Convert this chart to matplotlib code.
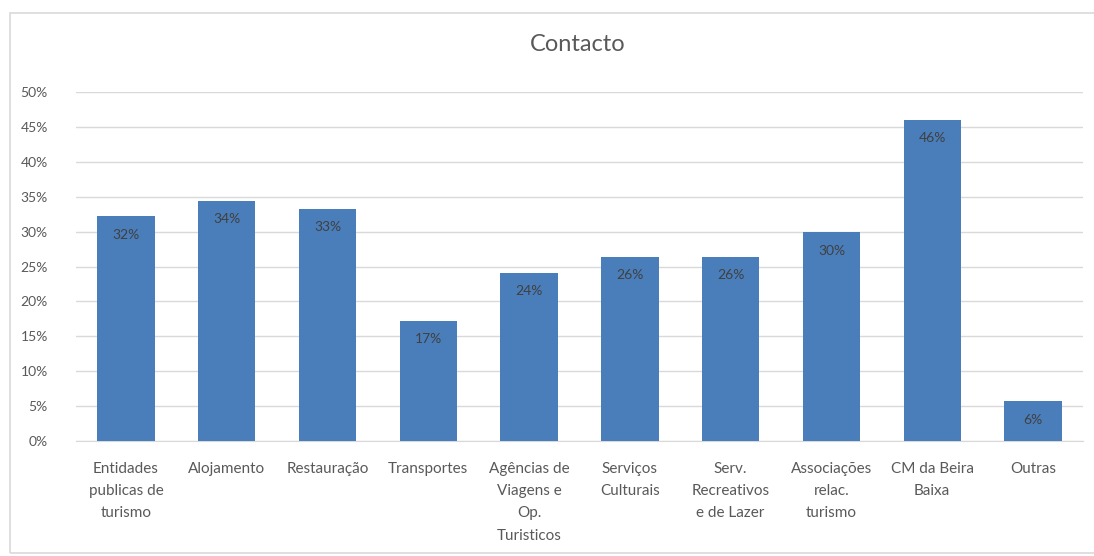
import matplotlib
matplotlib.use("Agg")
import matplotlib.pyplot as plt
from matplotlib.patches import Rectangle
from matplotlib.ticker import PercentFormatter

categories = [
    "Entidades\npublicas de\nturismo",
    "Alojamento",
    "Restauração",
    "Transportes",
    "Agências de\nViagens e\nOp.\nTuristicos",
    "Serviços\nCulturais",
    "Serv.\nRecreativos\ne de Lazer",
    "Associações\nrelac.\nturismo",
    "CM da Beira\nBaixa",
    "Outras",
]
values = [32.2, 34.4, 33.3, 17.2, 24.1, 26.4, 26.4, 29.9, 46.0, 5.7]
labels = ["32%", "34%", "33%", "17%", "24%", "26%", "26%", "30%", "46%", "6%"]
yticks = [0, 5, 10, 15, 20, 25, 30, 35, 40, 45, 50]

plt.rcParams["font.family"] = ["Lato", "DejaVu Sans"]
grey = "#595959"
blue = "#4a7ebb"

fig = plt.figure(figsize=(10.94, 5.56), dpi=100)
fig.patches.append(Rectangle((10 / 1094, 3 / 556), 1.2, 540 / 556, transform=fig.transFigure,
                             fill=False, edgecolor="#d9d9d9", linewidth=1.2))
ax = fig.add_axes([75.6 / 1094, 115 / 556, 1007.8 / 1094, 349 / 556])

x = range(len(values))
bars = ax.bar(x, values, width=0.57, color=blue, zorder=3)
for b, lab in zip(bars, labels):
    ax.annotate(lab, (b.get_x() + b.get_width() / 2, b.get_height()), xytext=(0, -9),
                textcoords="offset points", ha="center", va="top", fontsize=10, color="#404040")

ax.set_xlim(-0.5, len(values) - 0.5)
ax.set_ylim(0, 50)
ax.set_yticks(yticks)
ax.yaxis.set_major_formatter(PercentFormatter(decimals=0))
ax.set_xticks(list(x))
ax.set_xticklabels(categories, fontsize=11, color=grey, linespacing=1.75, va="top")
ax.tick_params(axis="y", labelsize=10, labelcolor=grey, length=0, pad=20)
ax.tick_params(axis="x", length=0, pad=15)
ax.grid(axis="y", color="#d9d9d9", linewidth=1, zorder=0)
for s in ax.spines.values():
    s.set_visible(False)
ax.spines["bottom"].set_visible(True)
ax.spines["bottom"].set_color("#d9d9d9")

fig.text(578 / 1094, 1 - 45 / 556, "Contacto", ha="center", va="center", fontsize=17, color=grey)

fig.savefig("out.png", dpi=100)
